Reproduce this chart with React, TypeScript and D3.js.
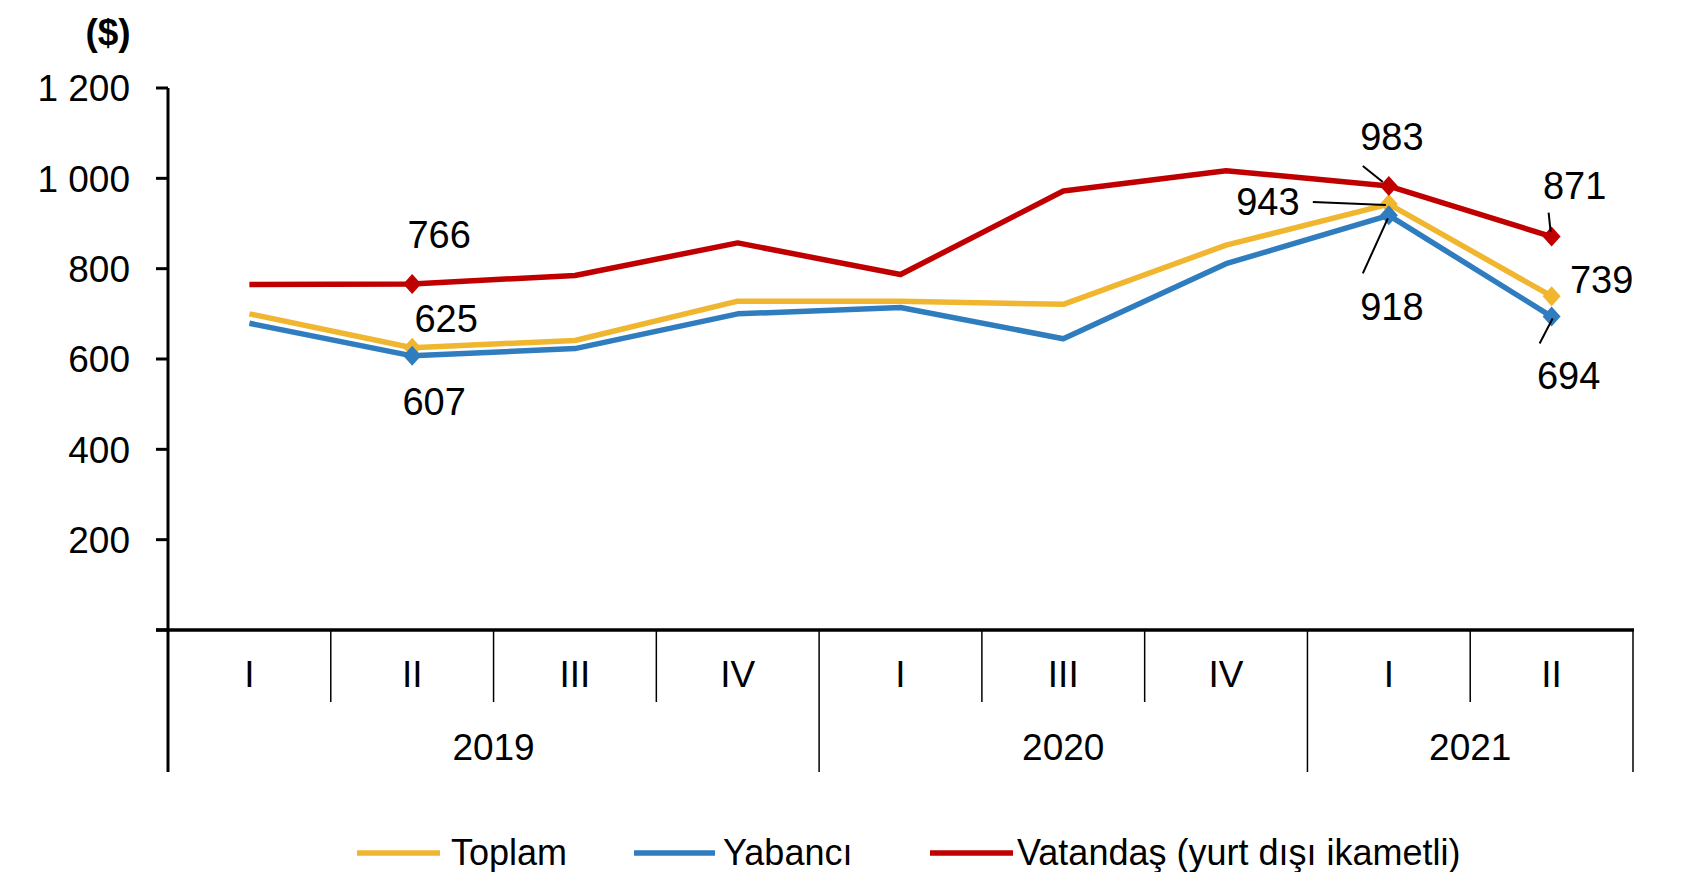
import React from "react";
import * as d3 from "d3";

// ---- data ----
const quarters = ["I", "II", "III", "IV", "I", "III", "IV", "I", "II"];
const years = [
  { label: "2019", start: 0, count: 4 },
  { label: "2020", start: 4, count: 3 },
  { label: "2021", start: 7, count: 2 },
];
const yTicks = [200, 400, 600, 800, 1000, 1200];
const toplam = [700, 625, 641, 728, 728, 721, 852, 943, 739];
const yabanci = [679, 607, 623, 700, 714, 645, 811, 918, 694];
const vatandas = [765, 766, 785, 857, 787, 972, 1017, 983, 871];
const markerIdx = [1, 7, 8];

const seriesList = [
  { name: "Toplam", values: toplam, color: "#F0B630" },
  { name: "Yabancı", values: yabanci, color: "#2F7DBF" },
  { name: "Vatandaş (yurt dışı ikametli)", values: vatandas, color: "#C00000" },
];

// label annotations: series index, category index, offsets, optional leader
const annotations = [
  { s: 2, i: 1, dx: 27, dy: -36 },
  { s: 0, i: 1, dx: 34, dy: -16 },
  { s: 1, i: 1, dx: 22, dy: 59 },
  { s: 2, i: 7, dx: 3, dy: -36, lead: [-26, -20, -6, -4] },
  { s: 0, i: 7, dx: -121, dy: 11, lead: [-76, -2, -3, 1] },
  { s: 1, i: 7, dx: 3, dy: 105, lead: [-26, 58, -1, 3] },
  { s: 2, i: 8, dx: 23, dy: -38, lead: [-3, -24, -1, -5] },
  { s: 0, i: 8, dx: 50, dy: -3 },
  { s: 1, i: 8, dx: 17, dy: 72, lead: [-12, 27, 1, 2] },
];

const FONT = "'Liberation Sans', Arial, Helvetica, sans-serif";

export default function App() {
  const W = 1699;
  const H = 872;
  const left = 168;
  const right = 1633;
  const top = 88;
  const bottom = 630;
  const shortDiv = 702;
  const longDiv = 772;

  const x = d3
    .scaleBand<number>()
    .domain(quarters.map((_, i) => i))
    .range([left, right])
    .padding(0);
  const y = d3.scaleLinear().domain([0, 1200]).range([bottom, top]);
  const cx = (i: number) => (x(i) as number) + x.bandwidth() / 2;

  const line = d3
    .line<number>()
    .x((_, i) => cx(i))
    .y((v) => y(v));

  const yearStarts = new Set(years.map((yr) => yr.start));
  const dividers = quarters.map((_, i) => i).concat([quarters.length]);

  const diamond = (px: number, py: number) =>
    `M${px},${py - 10}L${px + 9},${py}L${px},${py + 10}L${px - 9},${py}Z`;

  const legendItems = [
    { x1: 357, x2: 440, tx: 451 },
    { x1: 634, x2: 715, tx: 723 },
    { x1: 930, x2: 1013, tx: 1017 },
  ];

  return (
    <svg
      width={W}
      height={H}
      style={{ position: "absolute", left: 0, top: 0, background: "#fff" }}
      fontFamily={FONT}
    >
      {/* unit label */}
      <text x={108} y={45} textAnchor="middle" fontSize={37} fontWeight="bold" fill="#000">
        ($)
      </text>

      {/* y axis ticks */}
      {[0, ...yTicks].map((t) => (
        <g key={t}>
          <line x1={156} x2={left} y1={y(t)} y2={y(t)} stroke="#000" strokeWidth={3} />
          {t > 0 && (
            <text
              x={130}
              y={y(t)}
              dy="0.36em"
              textAnchor="end"
              fontSize={37}
              fill="#000"
            >
              {d3.format(",")(t).replace(",", " ")}
            </text>
          )}
        </g>
      ))}
      <line x1={left} x2={left} y1={top} y2={bottom} stroke="#000" strokeWidth={3} />

      {/* category dividers */}
      {dividers.map((i) => {
        const xx = i < quarters.length ? (x(i) as number) : right;
        const isLong = yearStarts.has(i) || i === quarters.length;
        return (
          <line
            key={"d" + i}
            x1={xx}
            x2={xx}
            y1={bottom}
            y2={isLong ? longDiv : shortDiv}
            stroke="#000"
            strokeWidth={i === 0 ? 3 : 1.5}
          />
        );
      })}
      <line x1={156} x2={right + 1} y1={bottom} y2={bottom} stroke="#000" strokeWidth={3.5} />

      {/* quarter labels */}
      {quarters.map((q, i) => (
        <text key={"q" + i} x={cx(i)} y={674} dy="0.36em" textAnchor="middle" fontSize={37} fill="#000">
          {q}
        </text>
      ))}
      {years.map((yr) => {
        const x0 = x(yr.start) as number;
        const x1 = x0 + x.bandwidth() * yr.count;
        return (
          <text key={yr.label} x={(x0 + x1) / 2} y={747} dy="0.36em" textAnchor="middle" fontSize={37} fill="#000">
            {yr.label}
          </text>
        );
      })}

      {/* lines */}
      {seriesList.map((s) => (
        <path
          key={s.name}
          d={line(s.values) as string}
          fill="none"
          stroke={s.color}
          strokeWidth={5.5}
          strokeLinejoin="round"
        />
      ))}
      {seriesList.map((s) =>
        markerIdx.map((i) => (
          <path key={s.name + i} d={diamond(cx(i), y(s.values[i]))} fill={s.color} />
        ))
      )}

      {/* annotations */}
      {annotations.map((a, k) => {
        const px = cx(a.i);
        const py = y(seriesList[a.s].values[a.i]);
        return (
          <g key={"a" + k}>
            {a.lead && (
              <line
                x1={px + a.lead[0]}
                y1={py + a.lead[1]}
                x2={px + a.lead[2]}
                y2={py + a.lead[3]}
                stroke="#000"
                strokeWidth={2}
              />
            )}
            <text x={px + a.dx} y={py + a.dy} textAnchor="middle" fontSize={38} fill="#000">
              {seriesList[a.s].values[a.i]}
            </text>
          </g>
        );
      })}

      {/* legend */}
      {seriesList.map((s, k) => (
        <g key={"l" + k}>
          <line
            x1={legendItems[k].x1}
            x2={legendItems[k].x2}
            y1={853}
            y2={853}
            stroke={s.color}
            strokeWidth={5.5}
          />
          <text x={legendItems[k].tx} y={865} fontSize={36} fill="#000">
            {s.name}
          </text>
        </g>
      ))}
    </svg>
  );
}
